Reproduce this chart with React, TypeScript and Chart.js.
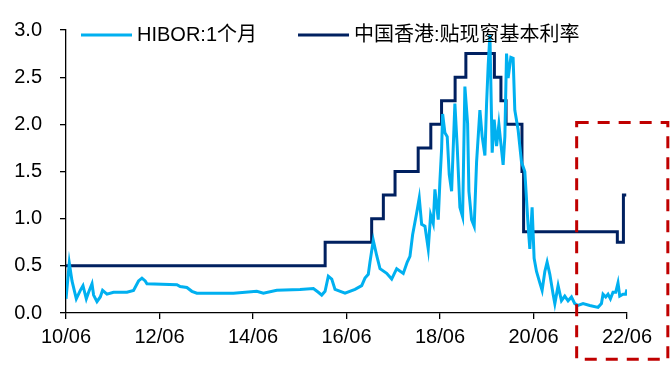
import { useEffect, useRef } from "react";
import { Chart, registerables } from "chart.js";

Chart.register(...registerables);

// ---- data (time as decimal years) ----
const hiborTimes = [
  2010.417, 2010.487, 2010.545, 2010.637, 2010.723, 2010.78, 2010.851, 2010.9, 2010.973, 2011.007,
  2011.079, 2011.15, 2011.199, 2011.293, 2011.434, 2011.72, 2011.861, 2011.968, 2012.041, 2012.111,
  2012.148, 2012.789, 2012.859, 2013.002, 2013.109, 2013.216, 2013.998, 2014.498, 2014.639, 2014.926,
  2015.423, 2015.708, 2015.814, 2015.887, 2015.958, 2016.028, 2016.101, 2016.171, 2016.385, 2016.599,
  2016.742, 2016.812, 2016.883, 2016.919, 2016.99, 2017.062, 2017.133, 2017.276, 2017.383, 2017.49,
  2017.631, 2017.716, 2017.774, 2017.831, 2017.917, 2017.973, 2018.024, 2018.095, 2018.165, 2018.216,
  2018.272, 2018.308, 2018.379, 2018.415, 2018.451, 2018.473, 2018.522, 2018.571, 2018.614, 2018.665,
  2018.735, 2018.784, 2018.842, 2018.9, 2018.949, 2019.007, 2019.035, 2019.092, 2019.148, 2019.199,
  2019.27, 2019.319, 2019.377, 2019.413, 2019.448, 2019.484, 2019.505, 2019.533, 2019.575, 2019.627,
  2019.676, 2019.718, 2019.767, 2019.804, 2019.84, 2019.874, 2019.932, 2019.981, 2020.017, 2020.088,
  2020.16, 2020.231, 2020.302, 2020.338, 2020.387, 2020.43, 2020.481, 2020.552, 2020.601, 2020.659,
  2020.708, 2020.766, 2020.836, 2020.873, 2020.943, 2021.015, 2021.086, 2021.156, 2021.229, 2021.299,
  2021.37, 2021.477, 2021.62, 2021.797, 2021.87, 2021.904, 2021.962, 2022.011, 2022.062, 2022.117,
  2022.175, 2022.224, 2022.261, 2022.331, 2022.388, 2022.417,
];
const hiborValues = [
  0.15, 0.53, 0.34, 0.15, 0.24, 0.29, 0.15, 0.22, 0.31, 0.19,
  0.12, 0.17, 0.24, 0.2, 0.22, 0.22, 0.24, 0.34, 0.37, 0.34,
  0.31, 0.3, 0.28, 0.27, 0.23, 0.21, 0.21, 0.23, 0.21, 0.24,
  0.25, 0.26, 0.22, 0.19, 0.23, 0.39, 0.36, 0.25, 0.21, 0.25,
  0.29, 0.37, 0.41, 0.54, 0.77, 0.61, 0.47, 0.42, 0.36, 0.47,
  0.42, 0.54, 0.6, 0.83, 1.06, 1.22, 0.94, 0.92, 0.68, 1.04,
  0.95, 1.31, 0.99, 1.4, 1.74, 2.11, 1.91, 1.87, 1.47, 1.29,
  2.22, 1.77, 1.12, 1.02, 2.4, 2.01, 1.29, 0.99, 0.92, 1.6,
  2.15, 1.87, 1.67, 2.22, 2.63, 2.95, 2.42, 1.7, 2.05, 1.77,
  2.0, 1.8, 1.57, 1.87, 2.75, 2.49, 2.71, 2.7, 2.15, 1.94,
  1.6, 1.5, 0.92, 0.68, 1.12, 0.58, 0.44, 0.32, 0.24, 0.44,
  0.54, 0.41, 0.2, 0.1, 0.29, 0.13, 0.18, 0.13, 0.17, 0.1,
  0.08, 0.1, 0.08, 0.06, 0.1, 0.2, 0.17, 0.2, 0.15, 0.22,
  0.22, 0.32, 0.18, 0.2, 0.2, 0.25,
];

const baseRateTimes = [
  2010.417, 2015.96, 2016.955, 2017.205, 2017.455, 2017.95, 2018.22, 2018.45, 2018.74,
  2018.97, 2019.58, 2019.72, 2019.83, 2020.17, 2020.205, 2022.21, 2022.34, 2022.4,
];
const baseRateValues = [
  0.5, 0.75, 1.0, 1.25, 1.5, 1.75, 2.0, 2.25, 2.5,
  2.75, 2.5, 2.25, 2.0, 1.5, 0.86, 0.75, 1.25, 1.25,
];

const seriesLabels = ["HIBOR:1个月", "中国香港:贴现窗基本利率"];
const seriesColors = ["#00B0F0", "#002060"];

const xTickYears = [2010, 2012, 2014, 2016, 2018, 2020, 2022];
const xTickMonth = 6;
const xMin = 2010 + (xTickMonth - 1) / 12;
const xMax = 2022 + (xTickMonth - 1) / 12;
const yMin = 0;
const yMax = 3;
const yStep = 0.5;

// highlighted region (data units)
const highlightBox = { fromX: 2021.34, toX: 2023.29, fromY: -0.49, toY: 2.02 };

const FONT = '"Liberation Sans", Arial, "Noto Sans CJK SC", sans-serif';

const legendPlugin = {
  id: "inlineLegend",
  afterDatasetsDraw(chart: any) {
    const { ctx, chartArea } = chart;
    ctx.save();
    ctx.font = `20px ${FONT}`;
    ctx.textBaseline = "middle";
    ctx.fillStyle = "#000";
    let x = chartArea.left + 15;
    const y = chartArea.top + 5;
    chart.data.datasets.forEach((ds: any) => {
      ctx.strokeStyle = ds.borderColor;
      ctx.lineWidth = 3;
      ctx.beginPath();
      ctx.moveTo(x, y);
      ctx.lineTo(x + 51, y);
      ctx.stroke();
      ctx.fillText(ds.label, x + 56, y);
      x += 56 + ctx.measureText(ds.label).width + 41;
    });
    ctx.restore();
  },
};

const highlightPlugin = {
  id: "highlightBox",
  afterDraw(chart: any) {
    const { ctx } = chart;
    const xs = chart.scales.x;
    const ys = chart.scales.y;
    const l = xs.getPixelForValue(highlightBox.fromX);
    const r = xs.getPixelForValue(highlightBox.toX);
    const t = ys.getPixelForValue(highlightBox.toY);
    const b = ys.getPixelForValue(highlightBox.fromY);
    ctx.save();
    ctx.strokeStyle = "#C00000";
    ctx.lineWidth = 3;
    ctx.setLineDash([12, 9]);
    ctx.strokeRect(l, t, r - l, b - t);
    ctx.restore();
  },
};

export default function App() {
  const ref = useRef<HTMLCanvasElement | null>(null);

  useEffect(() => {
    if (!ref.current) return;
    Chart.defaults.font.family = FONT;
    Chart.defaults.font.size = 20;
    Chart.defaults.color = "#000";

    const chart = new Chart(ref.current, {
      type: "line",
      data: {
        datasets: [
          {
            label: seriesLabels[0],
            data: hiborTimes.map((t, i) => ({ x: t, y: hiborValues[i] })),
            borderColor: seriesColors[0],
            backgroundColor: seriesColors[0],
            borderWidth: 3,
            pointRadius: 0,
            tension: 0,
          },
          {
            label: seriesLabels[1],
            data: baseRateTimes.map((t, i) => ({ x: t, y: baseRateValues[i] })),
            borderColor: seriesColors[1],
            backgroundColor: seriesColors[1],
            borderWidth: 3,
            pointRadius: 0,
            stepped: true,
          },
        ],
      },
      options: {
        animation: false,
        responsive: false,
        layout: { padding: { left: 0, right: 43, top: 20, bottom: 0 } },
        plugins: {
          legend: { display: false },
          tooltip: { enabled: false },
        },
        scales: {
          x: {
            type: "linear",
            min: xMin,
            max: xMax,
            afterBuildTicks: (axis: any) => {
              axis.ticks = xTickYears.map((yr) => ({ value: yr + (xTickMonth - 1) / 12 }));
            },
            afterFit: (axis: any) => {
              axis.height = 54;
            },
            ticks: {
              autoSkip: false,
              maxRotation: 0,
              padding: 6,
              color: "#000",
              font: { size: 20, family: FONT },
              callback: (v: any) => {
                const yr = Math.round(Number(v) - (xTickMonth - 1) / 12);
                return `${String(yr).slice(2)}/${String(xTickMonth).padStart(2, "0")}`;
              },
            },
            grid: {
              drawOnChartArea: false,
              drawTicks: true,
              tickLength: 6,
              color: "#000",
              lineWidth: 1.3,
            },
            border: { display: true, color: "#000", width: 1.3 },
          },
          y: {
            min: yMin,
            max: yMax,
            afterFit: (axis: any) => {
              axis.width = 66;
            },
            ticks: {
              stepSize: yStep,
              padding: 18,
              color: "#000",
              font: { size: 20, family: FONT },
              callback: (v: any) => Number(v).toFixed(1),
            },
            grid: {
              drawOnChartArea: false,
              drawTicks: true,
              tickLength: 6,
              color: "#000",
              lineWidth: 1.3,
            },
            border: { display: true, color: "#000", width: 1.3 },
          },
        },
      },
      plugins: [legendPlugin, highlightPlugin],
    });
    return () => chart.destroy();
  }, []);

  return (
    <div style={{ position: "fixed", left: 0, top: 0, width: 670, height: 367, background: "#fff" }}>
      <canvas ref={ref} width={670} height={367} style={{ display: "block" }} />
    </div>
  );
}
